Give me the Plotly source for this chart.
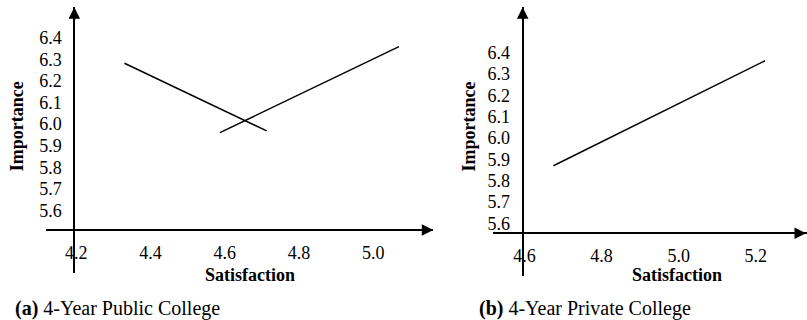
import plotly.graph_objects as go

W, H = 807, 320

# ---- data ----
x_ticks_a = [4.2, 4.4, 4.6, 4.8, 5.0]
x_ticks_b = [4.6, 4.8, 5.0, 5.2]
y_ticks = [5.6, 5.7, 5.8, 5.9, 6.0, 6.1, 6.2, 6.3, 6.4]

line1_a_x = [4.33, 4.713]
line1_a_y = [6.281, 5.968]
line2_a_x = [4.587, 5.069]
line2_a_y = [5.960, 6.358]
line_b_x = [4.675, 5.224]
line_b_y = [5.870, 6.362]

caption_a = "<b>(a)</b> 4-Year Public College"
caption_b = "<b>(b)</b> 4-Year Private College"
x_title = "Satisfaction"
y_title = "Importance"

FONT = "Liberation Serif"
TICK_SIZE = 18
TITLE_SIZE = 18
CAP_SIZE = 20

def px(x):
    return x / W

def py(y):
    return (H - y) / H

fig = go.Figure()
line_style = dict(color="black", width=1.5)
fig.add_trace(go.Scatter(x=line1_a_x, y=line1_a_y, mode="lines", line=line_style,
                         xaxis="x", yaxis="y", showlegend=False))
fig.add_trace(go.Scatter(x=line2_a_x, y=line2_a_y, mode="lines", line=line_style,
                         xaxis="x", yaxis="y", showlegend=False))
fig.add_trace(go.Scatter(x=line_b_x, y=line_b_y, mode="lines", line=line_style,
                         xaxis="x2", yaxis="y2", showlegend=False))

tickfont = dict(family=FONT, size=TICK_SIZE, color="black")
common = dict(showgrid=False, zeroline=False, showline=True, linecolor="black",
              linewidth=2, ticks="", tickfont=tickfont, tickformat=".1f",
              fixedrange=True, anchor="free")

# Panel (a)
fig.update_layout(
    xaxis=dict(common, domain=[px(46), px(433.3)],
               range=[4.2 + (46 - 76.2) / 371.4, 4.2 + (433.3 - 76.2) / 371.4],
               tickvals=x_ticks_a, position=py(230), ticklabelstandoff=6),
    yaxis=dict(common, domain=[py(272.5), py(7.3)],
               range=[6.0 - (272.5 - 124) / 216, 6.0 + (124 - 7.3) / 216],
               tickvals=y_ticks, position=px(74.3), ticklabelstandoff=8),
    xaxis2=dict(common, domain=[px(493.3), 1.0],
                range=[4.6 + (493.3 - 524.5) / 385.5, 4.6 + (807 - 524.5) / 385.5],
                tickvals=x_ticks_b, position=py(233.3), ticklabelstandoff=6),
    yaxis2=dict(common, domain=[py(276), py(7.3)],
                range=[6.0 - (276 - 138) / 213.5, 6.0 + (138 - 7.3) / 213.5],
                tickvals=y_ticks, position=px(522.7), ticklabelstandoff=8),
)

ann = []
# arrowheads
arrow = dict(text="", showarrow=True, arrowhead=2, arrowsize=1.15, arrowwidth=2,
             arrowcolor="black", xref="paper", yref="paper", axref="pixel", ayref="pixel")
ann.append(dict(arrow, x=px(433.3), y=py(230), ax=-14, ay=0))
ann.append(dict(arrow, x=px(74.3), y=py(7.3), ax=0, ay=14))
ann.append(dict(arrow, x=px(811), y=py(233.3), ax=-14, ay=0))
ann.append(dict(arrow, x=px(522.7), y=py(7.3), ax=0, ay=14))

tfont = dict(family=FONT, size=TITLE_SIZE, color="black")
def txt(s, x, y, **kw):
    d = dict(text=s, x=px(x), y=py(y), xref="paper", yref="paper", showarrow=False,
             xanchor="center", yanchor="middle", font=tfont)
    d.update(kw)
    return d

ann.append(txt("<b>" + x_title + "</b>", 249.7, 275))
ann.append(txt("<b>" + x_title + "</b>", 677, 275))
ann.append(txt("<b>" + y_title + "</b>", 17.7, 126.5, textangle=-90))
ann.append(txt("<b>" + y_title + "</b>", 468.8, 126.7, textangle=-90))
cfont = dict(family=FONT, size=CAP_SIZE, color="black")
ann.append(txt(caption_a, 13.3, 308, xanchor="left", font=cfont))
ann.append(txt(caption_b, 476.7, 308, xanchor="left", font=cfont))

fig.update_layout(
    width=W, height=H, margin=dict(l=0, r=0, t=0, b=0),
    paper_bgcolor="white", plot_bgcolor="white",
    annotations=ann, showlegend=False,
    font=dict(family=FONT, color="black"),
)

fig.write_html("out.html", config={"displayModeBar": False})
